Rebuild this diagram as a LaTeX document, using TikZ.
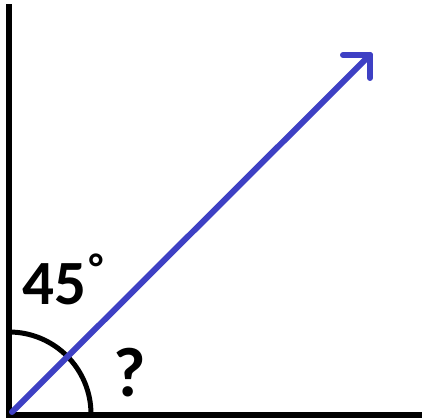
\documentclass[tikz,border=0pt]{standalone}
\usepackage{fontspec}
\setmainfont{Carlito}
\definecolor{arrowblue}{RGB}{62,64,196}
\begin{document}
\begin{tikzpicture}[x=1pt,y=1pt,
  axis/.style={line width=6.5pt, black},
  arcline/.style={line width=5pt, black},
  vec/.style={line width=6pt, arrowblue, line cap=round, line join=round},
  lbl/.style={inner sep=0pt, font=\bfseries\fontsize{63}{63}\selectfont}]
\useasboundingbox (0,0) rectangle (422,419);
\coordinate (O) at (9,4);
\coordinate (top) at (9,412);
\coordinate (right) at (422,4);
\coordinate (start) at (12,7);
\coordinate (tip) at (370,364);
\coordinate (armL) at (343,364);
\coordinate (armD) at (370,341);
\draw[arcline] (9,87) arc[start angle=90, end angle=0, radius=82];
\draw[axis, line cap=rect] (top) -- (O) -- (right);
\draw[vec] (start) -- (tip);
\draw[vec] (armL) -- (tip) -- (armD);
\node[lbl, anchor=base west] (a45) at (22,114) {45\hspace{3pt}\raisebox{0.37em}{\fontsize{40}{40}\selectfont °}};
\node[lbl, anchor=base west, font=\bfseries\fontsize{70}{70}\selectfont] (q) at (113,22) {?};
\end{tikzpicture}
\end{document}
